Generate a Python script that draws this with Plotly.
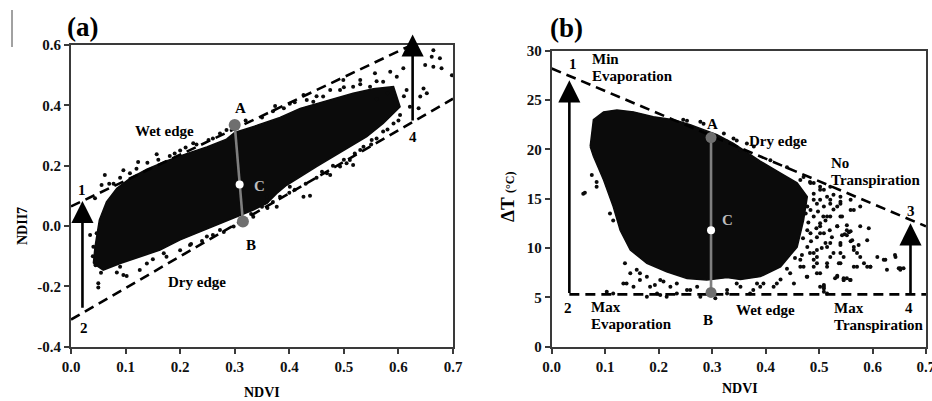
import plotly.graph_objects as go

FONT = "Liberation Serif"
W, H = 932, 401

# ---------------- panel (a): NDVI vs NDII7 ----------------
# outline of the dense point cloud
a_cloud = [(0.041, -0.124), (0.044, -0.069), (0.052, 0.020), (0.065, 0.080), (0.084, 0.125),
           (0.108, 0.158), (0.139, 0.188), (0.175, 0.216), (0.212, 0.240), (0.249, 0.262),
           (0.285, 0.288), (0.300, 0.310), (0.340, 0.333), (0.383, 0.360), (0.420, 0.390),
           (0.469, 0.415), (0.517, 0.440), (0.554, 0.455), (0.591, 0.462), (0.603, 0.395),
           (0.572, 0.340), (0.542, 0.296), (0.511, 0.263), (0.481, 0.230), (0.450, 0.197),
           (0.420, 0.163), (0.395, 0.135), (0.377, 0.108), (0.359, 0.075), (0.334, 0.053),
           (0.304, 0.031), (0.273, 0.009), (0.236, -0.019), (0.200, -0.046), (0.163, -0.080),
           (0.126, -0.102), (0.090, -0.124), (0.059, -0.146)]
# scattered points around the cloud
a_points = [(0.157, 0.238), (0.123, 0.212), (0.096, 0.185), (0.062, 0.169), (0.056, 0.136),
            (0.078, 0.140), (0.044, 0.092), (0.200, 0.250), (0.224, 0.274), (0.252, 0.285),
            (0.273, 0.307), (0.285, 0.318), (0.181, 0.232), (0.108, 0.175), (0.047, -0.024),
            (0.041, -0.069), (0.050, -0.190), (0.096, -0.162), (0.139, -0.124), (0.175, -0.102),
            (0.200, -0.080), (0.218, -0.063), (0.249, -0.035), (0.273, -0.013), (0.298, -0.002),
            (0.334, 0.031), (0.350, 0.064), (0.359, 0.081), (0.090, -0.135), (0.126, -0.146),
            (0.050, -0.204), (0.102, -0.166), (0.084, -0.154), (0.374, 0.398), (0.401, 0.405),
            (0.426, 0.434), (0.432, 0.418), (0.444, 0.412), (0.462, 0.429), (0.475, 0.451),
            (0.493, 0.451), (0.499, 0.484), (0.517, 0.462), (0.530, 0.484), (0.548, 0.462),
            (0.557, 0.506), (0.572, 0.478), (0.585, 0.511), (0.597, 0.495), (0.609, 0.523),
            (0.615, 0.451), (0.621, 0.395), (0.603, 0.368), (0.591, 0.340), (0.572, 0.313),
            (0.551, 0.285), (0.530, 0.252), (0.511, 0.219), (0.517, 0.202), (0.493, 0.197),
            (0.475, 0.169), (0.664, 0.583), (0.661, 0.561), (0.676, 0.556), (0.649, 0.534),
            (0.664, 0.528), (0.679, 0.523), (0.698, 0.500), (0.646, 0.456), (0.652, 0.440),
            (0.640, 0.429), (0.637, 0.390), (0.426, 0.097), (0.401, 0.130), (0.383, 0.097),
            (0.377, 0.064), (0.359, 0.097), (0.438, 0.100), (0.536, 0.263), (0.505, 0.208),
            (0.469, 0.175), (0.591, 0.420), (0.610, 0.430), (0.560, 0.420), (0.580, 0.440),
            (0.150, -0.110), (0.170, -0.090), (0.220, -0.060), (0.240, -0.050), (0.260, -0.030),
            (0.280, -0.020), (0.310, 0.010), (0.320, 0.020), (0.330, 0.040), (0.360, 0.060),
            (0.370, 0.080), (0.400, 0.110), (0.410, 0.120), (0.430, 0.140), (0.450, 0.160),
            (0.460, 0.180), (0.480, 0.200), (0.500, 0.220), (0.520, 0.240), (0.550, 0.270),
            (0.560, 0.290), (0.580, 0.320), (0.600, 0.350), (0.070, 0.140), (0.090, 0.160),
            (0.120, 0.190), (0.140, 0.210), (0.160, 0.220), (0.190, 0.240), (0.210, 0.260),
            (0.230, 0.270), (0.260, 0.290), (0.320, 0.350), (0.350, 0.360), (0.370, 0.380),
            (0.390, 0.390), (0.410, 0.410), (0.450, 0.430), (0.500, 0.460), (0.530, 0.470),
            (0.560, 0.480), (0.040, -0.100), (0.045, -0.130), (0.055, -0.155), (0.035, -0.030)]
a_wet_edge = [(0.0, 0.065), (0.617, 0.594)]
a_dry_edge = [(0.0, -0.310), (0.700, 0.422)]
a_arrow_12 = [(0.021, -0.276), (0.021, 0.083)]
a_arrow_34 = [(0.626, 0.345), (0.626, 0.635)]
a_AB = [(0.300, 0.335), (0.315, 0.015)]
a_C = [(0.309, 0.138)]
a_xticks = [0.0, 0.1, 0.2, 0.3, 0.4, 0.5, 0.6, 0.7]
a_xlabels = ["0.0", "0.1", "0.2", "0.3", "0.4", "0.5", "0.6", "0.7"]
a_yticks = [-0.4, -0.2, 0.0, 0.2, 0.4, 0.6]
a_ylabels = ["-0.4", "-0.2", "0.0", "0.2", "0.4", "0.6"]

# ---------------- panel (b): NDVI vs delta T ----------------
b_cloud = [(0.072, 20.3), (0.078, 23.0), (0.097, 23.8), (0.122, 24.0), (0.153, 23.8),
           (0.190, 23.3), (0.228, 23.0), (0.259, 22.5), (0.284, 22.0), (0.309, 21.5),
           (0.340, 20.6), (0.390, 18.8), (0.428, 17.6), (0.459, 16.6), (0.478, 15.2),
           (0.471, 12.8), (0.459, 10.1), (0.428, 8.1), (0.390, 7.1), (0.353, 6.8),
           (0.328, 7.0), (0.290, 6.76), (0.253, 6.9), (0.215, 7.6), (0.178, 8.45),
           (0.147, 9.8), (0.128, 11.8), (0.115, 14.2), (0.097, 16.9), (0.078, 19.3)]
b_points = [(0.062, 15.6), (0.084, 16.7), (0.109, 13.5), (0.115, 12.8), (0.137, 8.45),
            (0.134, 6.4), (0.153, 6.08), (0.165, 7.44), (0.178, 7.1), (0.193, 6.25),
            (0.203, 5.24), (0.209, 6.6), (0.234, 6.4), (0.259, 5.75), (0.306, 4.9),
            (0.328, 5.75), (0.346, 6.4), (0.377, 5.75), (0.396, 6.4), (0.421, 6.4),
            (0.502, 6.08), (0.515, 5.4), (0.546, 6.75), (0.558, 6.75), (0.571, 8.1),
            (0.596, 8.1), (0.609, 9.1), (0.624, 8.8), (0.642, 9.3), (0.627, 7.8),
            (0.652, 7.95), (0.658, 7.95), (0.593, 12.0), (0.565, 13.85), (0.556, 11.6),
            (0.534, 14.2), (0.559, 10.7), (0.574, 10.3), (0.577, 9.1), (0.540, 9.5),
            (0.521, 10.5), (0.502, 11.5), (0.483, 9.5), (0.508, 13.2), (0.521, 14.9),
            (0.490, 14.9), (0.502, 16.2), (0.471, 15.2), (0.496, 8.45), (0.515, 8.1),
            (0.465, 8.1), (0.477, 7.1), (0.534, 7.2), (0.322, 21.6), (0.346, 20.9),
            (0.284, 22.6), (0.253, 22.9), (0.409, 18.9), (0.440, 18.2), (0.471, 17.2),
            (0.483, 16.7), (0.559, 13.85), (0.540, 14.5), (0.521, 13.2), (0.502, 12.5),
            (0.534, 12.2), (0.552, 11.3), (0.565, 10.1), (0.540, 10.5), (0.515, 10.1),
            (0.490, 9.5), (0.521, 9.1), (0.546, 9.1), (0.571, 9.5), (0.540, 8.45),
            (0.565, 8.1), (0.590, 8.1), (0.643, 9.1), (0.652, 7.8), (0.534, 7.1),
            (0.546, 6.76), (0.559, 6.76), (0.509, 6.08), (0.509, 5.57), (0.502, 7.44),
            (0.478, 7.1), (0.490, 8.1), (0.496, 11.1), (0.509, 11.5), (0.478, 11.8),
            (0.484, 13.85), (0.496, 14.5), (0.515, 15.2), (0.502, 15.9), (0.521, 16.2),
            (0.540, 15.2), (0.559, 14.9), (0.490, 16.6), (0.509, 14.2), (0.527, 13.9),
            (0.577, 14.2), (0.540, 13.2), (0.478, 10.1), (0.496, 9.1), (0.465, 8.8),
            (0.446, 7.44), (0.453, 6.4), (0.415, 6.08), (0.390, 6.08), (0.428, 6.8),
            (0.059, 15.5), (0.075, 17.4), (0.084, 16.2), (0.147, 7.44), (0.159, 7.8),
            (0.140, 6.4), (0.165, 6.76), (0.184, 6.08), (0.203, 6.76), (0.197, 5.4),
            (0.222, 6.08), (0.234, 5.4), (0.253, 5.75), (0.272, 6.08), (0.278, 5.07),
            (0.328, 5.4), (0.353, 6.08), (0.371, 5.4), (0.384, 6.4), (0.215, 5.07),
            (0.178, 5.07), (0.115, 5.4), (0.103, 5.57), (0.328, 20.8), (0.340, 21.1),
            (0.365, 20.6), (0.353, 19.9), (0.378, 20.3), (0.246, 23.0), (0.278, 22.8),
            (0.552, 11.8), (0.548, 11.4), (0.577, 12.2), (0.552, 12.3), (0.559, 11.7),
            (0.543, 11.3), (0.562, 10.8), (0.590, 10.8), (0.540, 10.3), (0.565, 9.8),
            (0.584, 8.45), (0.621, 8.8), (0.649, 7.95), (0.596, 8.1), (0.546, 6.93),
            (0.552, 6.93), (0.530, 6.93), (0.509, 6.25), (0.509, 5.9), (0.537, 8.45),
            (0.527, 9.5), (0.524, 11.1), (0.534, 12.2), (0.543, 13.2), (0.521, 14.5),
            (0.502, 14.9), (0.515, 13.2), (0.502, 12.2), (0.512, 10.5), (0.496, 9.8),
            (0.490, 8.8), (0.515, 8.45), (0.496, 7.44), (0.471, 8.1), (0.484, 11.5),
            (0.490, 13.2), (0.478, 14.2), (0.490, 15.5), (0.509, 15.9), (0.527, 15.4),
            (0.540, 14.7), (0.484, 16.6), (0.465, 16.9), (0.480, 12.6), (0.470, 11.0),
            (0.485, 10.7), (0.468, 9.3), (0.455, 9.0), (0.440, 7.9), (0.505, 10.0),
            (0.495, 12.0), (0.512, 12.8), (0.475, 13.5), (0.498, 13.7), (0.520, 11.8)]
b_dry_edge = [(0.0, 28.2), (0.700, 12.2)]
b_wet_edge = [(0.033, 5.3), (0.700, 5.3)]
b_arrow_12 = [(0.033, 5.3), (0.033, 27.0)]
b_arrow_34 = [(0.671, 5.3), (0.671, 12.5)]
b_AB = [(0.298, 21.2), (0.298, 5.5)]
b_C = [(0.298, 11.8)]
b_xticks = [0.0, 0.1, 0.2, 0.3, 0.4, 0.5, 0.6, 0.7]
b_xlabels = ["0.0", "0.1", "0.2", "0.3", "0.4", "0.5", "0.6", "0.7"]
b_yticks = [0, 5, 10, 15, 20, 25, 30]
b_ylabels = ["0", "5", "10", "15", "20", "25", "30"]

# ---------------- layout geometry (pixels) ----------------
A_DOM_X = [71 / W, 453 / W]
A_DOM_Y = [1 - 346.7 / H, 1 - 45 / H]
B_DOM_X = [551.7 / W, 926 / W]
B_DOM_Y = [1 - 346.7 / H, 1 - 50.7 / H]
A_YR = [-0.4, 0.6]
B_YR = [0, 30]

fig = go.Figure()
ann = []


def xs(pts):
    return [p[0] for p in pts]


def ys(pts):
    return [p[1] for p in pts]


def add_panel(cloud, points, edges, arrows, ab, c, xa, ya, dot_size):
    fig.add_trace(go.Scatter(x=xs(cloud) + [cloud[0][0]], y=ys(cloud) + [cloud[0][1]],
                             mode="lines", fill="toself", fillcolor="#0b0b0b",
                             line=dict(color="#0b0b0b", width=1.5),
                             xaxis=xa, yaxis=ya, hoverinfo="skip", showlegend=False))
    fig.add_trace(go.Scatter(x=xs(points), y=ys(points), mode="markers",
                             marker=dict(color="#0b0b0b", size=4),
                             xaxis=xa, yaxis=ya, hoverinfo="skip", showlegend=False))
    for e in edges:
        fig.add_trace(go.Scatter(x=xs(e), y=ys(e), mode="lines",
                                 line=dict(color="black", width=2.6, dash="10px,6px"),
                                 xaxis=xa, yaxis=ya, hoverinfo="skip", showlegend=False))
    for ar in arrows:
        (x0, y0), (x1, y1) = ar
        ann.append(dict(x=x1, y=y1, ax=x0, ay=y0, xref=xa, yref=ya, axref=xa, ayref=ya,
                        text="", showarrow=True, arrowhead=2, arrowsize=1.7,
                        arrowwidth=2.6, arrowcolor="black", standoff=0, startstandoff=0))
    fig.add_trace(go.Scatter(x=xs(ab), y=ys(ab), mode="lines+markers",
                             line=dict(color="#7f7f7f", width=2.6),
                             marker=dict(color="#6f6f6f", size=dot_size),
                             xaxis=xa, yaxis=ya, hoverinfo="skip", showlegend=False))
    fig.add_trace(go.Scatter(x=xs(c), y=ys(c), mode="markers",
                             marker=dict(color="white", size=8),
                             xaxis=xa, yaxis=ya, hoverinfo="skip", showlegend=False))


add_panel(a_cloud, a_points, [a_wet_edge, a_dry_edge], [a_arrow_12, a_arrow_34],
          a_AB, a_C, "x", "y", 12)
add_panel(b_cloud, b_points, [b_dry_edge, b_wet_edge], [b_arrow_12, b_arrow_34],
          b_AB, b_C, "x2", "y2", 11)


def bold(labels):
    return ["<b>%s</b>" % s for s in labels]


axis_common = dict(showline=True, linecolor="#3a3a3a", linewidth=2, mirror=True,
                   ticks="outside", ticklen=5, tickwidth=2, tickcolor="#3a3a3a",
                   showgrid=False, zeroline=False, fixedrange=True, automargin=False,
                   ticklabeloverflow="allow",
                   tickfont=dict(family=FONT, size=15, color="#111"))

fig.update_layout(
    width=W, height=H, autosize=False,
    margin=dict(l=0, r=0, t=0, b=0, pad=0, autoexpand=False),
    paper_bgcolor="white", plot_bgcolor="white",
    showlegend=False,
    xaxis=dict(domain=A_DOM_X, range=[0, 0.7], tickvals=a_xticks, ticktext=bold(a_xlabels),
               anchor="y", **axis_common),
    yaxis=dict(domain=A_DOM_Y, range=A_YR, tickvals=a_yticks, ticktext=bold(a_ylabels),
               anchor="x", **axis_common),
    xaxis2=dict(domain=B_DOM_X, range=[0, 0.70001], tickvals=b_xticks,
                ticktext=bold(b_xlabels), anchor="y2", **axis_common),
    yaxis2=dict(domain=B_DOM_Y, range=B_YR, tickvals=b_yticks, ticktext=bold(b_ylabels),
                anchor="x2", **axis_common),
)


def txt(text, x, y, xref, yref, size=15, xanchor="center", color="black", angle=0):
    ann.append(dict(text="<b>%s</b>" % text, x=x, y=y, xref=xref, yref=yref, showarrow=False,
                    xanchor=xanchor, yanchor="middle", textangle=angle,
                    font=dict(family=FONT, size=size, color=color)))


# panel (a) labels
txt("Wet edge", 0.172, 0.315, "x", "y")
txt("Dry edge", 0.230, -0.186, "x", "y")
txt("A", 0.310, 0.392, "x", "y")
txt("B", 0.329, -0.064, "x", "y")
txt("C", 0.346, 0.133, "x", "y", color="#bdbdbd")
txt("1", 0.020, 0.120, "x", "y")
txt("2", 0.023, -0.337, "x", "y")
txt("3", 0.627, 0.646, "x", "y")
txt("4", 0.626, 0.296, "x", "y")
# panel (b) labels
txt("Min", 0.072, 29.2, "x2", "y2", xanchor="left")
txt("Evaporation", 0.072, 27.4, "x2", "y2", xanchor="left")
txt("Max", 0.069, 4.05, "x2", "y2", xanchor="left")
txt("Evaporation", 0.069, 2.3, "x2", "y2", xanchor="left")
txt("Max", 0.524, 3.9, "x2", "y2", xanchor="left")
txt("Transpiration", 0.524, 2.2, "x2", "y2", xanchor="left")
txt("No", 0.518, 18.6, "x2", "y2", xanchor="left")
txt("Transpiration", 0.518, 16.9, "x2", "y2", xanchor="left")
txt("Dry edge", 0.365, 20.8, "x2", "y2", xanchor="left")
txt("Wet edge", 0.400, 3.72, "x2", "y2")
txt("A", 0.300, 22.6, "x2", "y2")
txt("B", 0.293, 2.7, "x2", "y2")
txt("C", 0.328, 12.8, "x2", "y2", color="#bdbdbd")
txt("1", 0.040, 28.7, "x2", "y2")
txt("2", 0.031, 3.9, "x2", "y2")
txt("3", 0.672, 13.8, "x2", "y2")
txt("4", 0.668, 3.9, "x2", "y2")
# titles
txt("(a)", 82 / W, 1 - 27 / H, "paper", "paper", size=27)
txt("(b)", 566 / W, 1 - 28 / H, "paper", "paper", size=27)
txt("NDVI", 262 / W, 1 - 392 / H, "paper", "paper", size=14)
txt("NDVI", 740 / W, 1 - 388 / H, "paper", "paper", size=14)
txt("NDII7", 22 / W, 1 - 226 / H, "paper", "paper", size=14, angle=-90)
txt("ΔT <span style='font-size:12px'>(°C)</span>", 508 / W, 1 - 197 / H,
    "paper", "paper", size=19, angle=-90)

fig.update_layout(annotations=ann)
fig.add_shape(type="line", xref="paper", yref="paper", x0=12 / W, x1=12 / W,
              y0=1 - 10 / H, y1=1 - 47 / H, line=dict(color="#444", width=1))

fig.write_html("out.html", config={"displayModeBar": False},
               post_script="document.body.style.margin='0';document.body.style.padding='0';")
